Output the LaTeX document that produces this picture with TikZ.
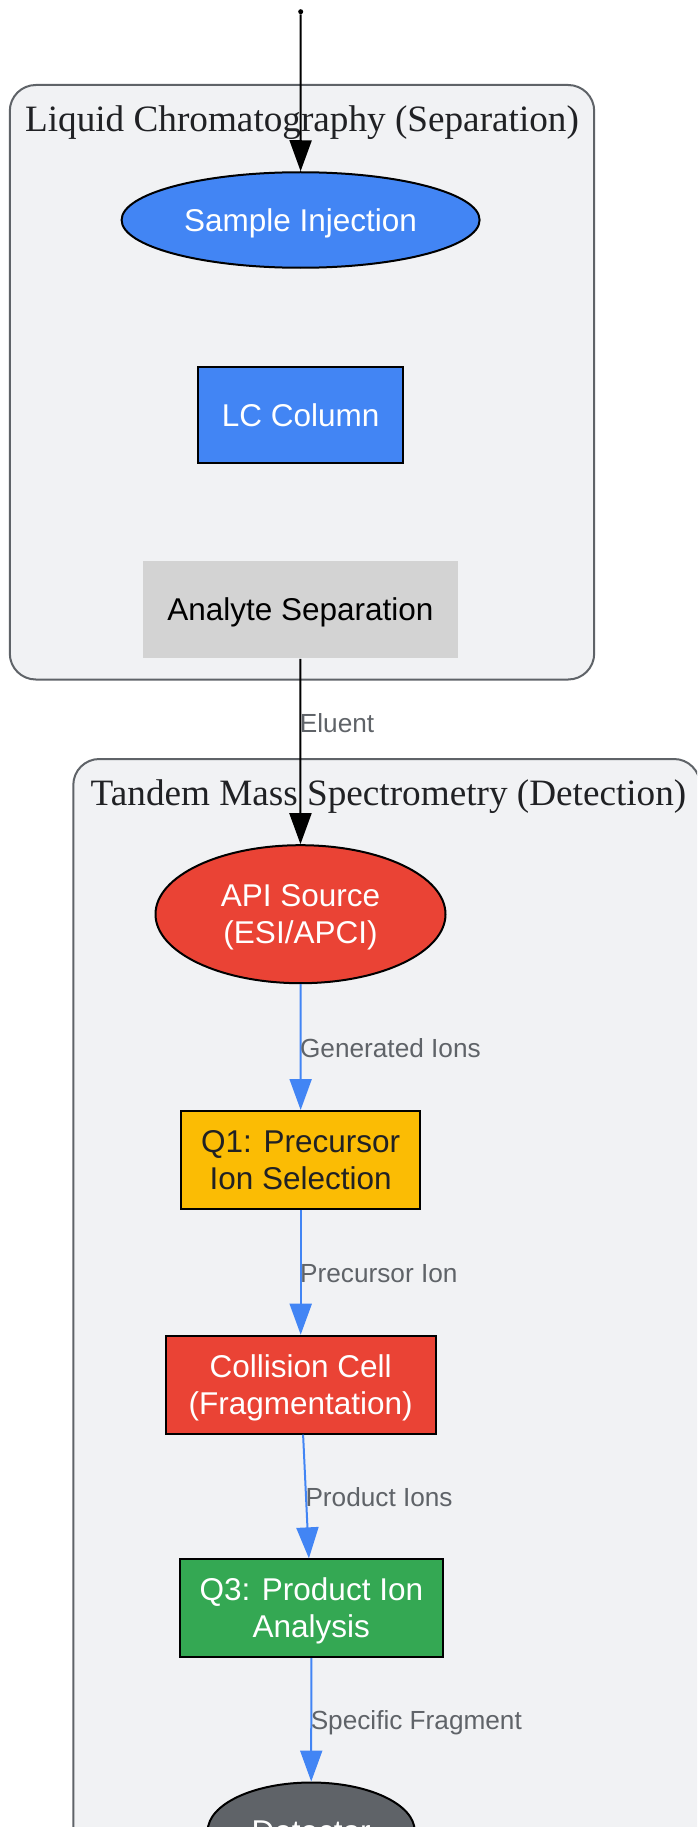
\documentclass[tikz,border=0pt]{standalone}
\usepackage{fontspec}
\setmainfont{Liberation Serif}
\newfontfamily\lsans{Liberation Sans}
\usetikzlibrary{arrows.meta,shapes.geometric}
\definecolor{gblue}{HTML}{4285F4}
\definecolor{gred}{HTML}{EA4335}
\definecolor{gyellow}{HTML}{FBBC04}
\definecolor{ggreen}{HTML}{34A853}
\definecolor{gdark}{HTML}{5F6368}
\definecolor{glight}{HTML}{D3D3D3}
\definecolor{cfill}{HTML}{F1F2F4}
\definecolor{cborder}{HTML}{5F6368}
\definecolor{ctext}{HTML}{202124}
\begin{document}
\begin{tikzpicture}[x=1pt,y=-1pt,
  cluster/.style={draw=cborder, fill=cfill, line width=2pt, rounded corners=26pt},
  ctitle/.style={font=\fontsize{37.2}{42}\selectfont, text=ctext, anchor=base, inner sep=0pt},
  nodebase/.style={draw=black, line width=2pt, inner sep=0pt, align=center,
    font=\lsans\fontsize{31.5}{36.7}\selectfont, text height=22.5pt, text depth=0pt},
  twoline/.style={text height=58.6pt, text depth=0pt},
  ellnode/.style={nodebase, ellipse},
  boxnode/.style={nodebase, rectangle},
  blackflow/.style={draw=black, line width=2pt, -{Triangle[length=31pt,width=22pt]}},
  blueflow/.style={draw=gblue, line width=2pt, -{Triangle[length=31pt,width=22pt]}},
  elabel/.style={font=\lsans\fontsize{26.2}{30}\selectfont, text=gdark, anchor=west,
    inner sep=0pt, xshift=-1.5pt, text height=18.8pt, text depth=0pt}
]
\useasboundingbox (0,0) rectangle (697,1827);
\clip (0,0) rectangle (697,1827);

% clusters
\path[cluster] (9.8,85) rectangle (594.2,679.5);
\path[cluster] (73.3,759) rectangle (700,1900);
\node[ctitle] (t1) at (302,131.7) {Liquid Chromatography (Separation)};
\node[ctitle] (t2) at (388.5,805) {Tandem Mass Spectrometry (Detection)};

% nodes
\node[circle, fill=black, inner sep=0pt, minimum size=5pt] (start) at (300.7,11.7) {};
\node[ellnode, fill=gblue, text=white, minimum width=358pt, minimum height=95.5pt]
  (sample) at (300.6,220) {Sample Injection};
\node[boxnode, fill=gblue, text=white, minimum width=205pt, minimum height=95.5pt]
  (lc) at (300.7,415) {LC Column};
\node[boxnode, draw=none, fill=glight, text=black, minimum width=315pt, minimum height=96.7pt]
  (analyte) at (300.4,609.5) {Analyte Separation};
\node[ellnode, twoline, fill=gred, text=white, minimum width=290pt, minimum height=138pt]
  (api) at (300.5,914.2) {API Source\\(ESI/APCI)};
\node[boxnode, twoline, fill=gyellow, text=ctext, minimum width=239.5pt, minimum height=98pt]
  (q1) at (300.7,1160) {Q1: Precursor\\Ion Selection};
\node[boxnode, twoline, fill=gred, text=white, minimum width=270pt, minimum height=98pt]
  (coll) at (300.7,1384.7) {Collision Cell\\(Fragmentation)};
\node[boxnode, twoline, fill=ggreen, text=white, minimum width=263.5pt, minimum height=97.7pt]
  (q3) at (311.3,1608.2) {Q3: Product Ion\\Analysis};
\node[ellnode, fill=gdark, text=white, minimum width=207pt, minimum height=97pt]
  (det) at (311.2,1831) {Detector};

% connectors
\draw[blackflow] (start) -- (sample);
\draw[blackflow] (analyte) -- node[elabel, pos=0.347] {Eluent} (api);
\draw[blueflow] (api) -- node[elabel, pos=0.506] {Generated Ions} (q1);
\draw[blueflow] (q1) -- node[elabel, pos=0.504] {Precursor Ion} (coll);
\draw[blueflow] ([xshift=2.4pt]coll.south) -- node[elabel, pos=0.502] {Product Ions} ([xshift=-2.4pt]q3.north);
\draw[blueflow] (q3) -- node[elabel, pos=0.506] {Specific Fragment} (det);
\end{tikzpicture}
\end{document}
